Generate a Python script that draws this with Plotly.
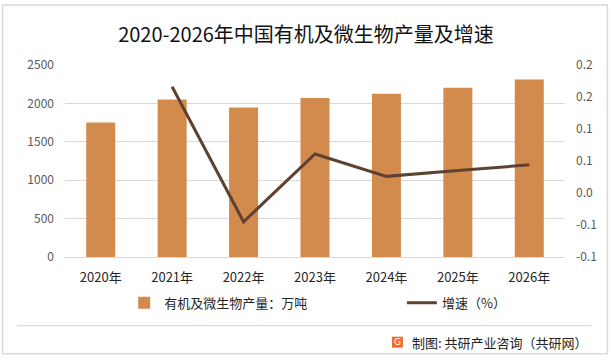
import plotly.graph_objects as go

years = ["2020年", "2021年", "2022年", "2023年", "2024年", "2025年", "2026年"]
output = [1750, 2050, 1945, 2070, 2125, 2205, 2310]
growth_years = ["2021年", "2022年", "2023年", "2024年", "2025年", "2026年"]
growth = [0.166, -0.045, 0.061, 0.026, 0.035, 0.044]
right_tick_vals = [-0.1, -0.05, 0.0, 0.05, 0.1, 0.15, 0.2]
right_tick_text = ["-0.1", "-0.1", "0.0", "0.1", "0.1", "0.2", "0.2"]

W, H = 612, 361
L, R, T, B = 64.75, 565.25, 65.3, 257.3
def px(x):
    return (x - L) / (R - L)
def py(y):
    return (B - y) / (B - T)

FONT = "Noto Sans CJK SC, Microsoft YaHei, sans-serif"

fig = go.Figure()
fig.add_trace(go.Bar(
    x=years, y=output, name="有机及微生物产量：万吨",
    marker=dict(color="#d38b4d", line=dict(width=0)),
    yaxis="y", legend="legend", showlegend=True,
))
fig.add_trace(go.Scatter(
    x=growth_years, y=growth, name="增速（%）", mode="lines",
    line=dict(color="#5e4130", width=3),
    yaxis="y2", legend="legend2", showlegend=True,
))

shapes = [
    dict(type="rect", xref="paper", yref="paper", x0=px(2.3), x1=px(607.7), y0=py(5.3), y1=py(354),
         line=dict(color="#d9d9d9", width=1.5), fillcolor="rgba(0,0,0,0)", layer="below"),
    dict(type="line", xref="paper", yref="paper", x0=px(17), x1=px(592), y0=py(326), y1=py(326),
         line=dict(color="#d9d9d9", width=1.2)),
    dict(type="rect", xref="paper", yref="paper", x0=px(392), x1=px(403), y0=py(348), y1=py(337),
         line=dict(width=0), fillcolor="#f26a2e"),
]
annotations = [
    dict(text="G", xref="paper", yref="paper", x=px(397.5), y=py(342.5), showarrow=False,
         font=dict(family="DejaVu Sans", size=9, color="white"), xanchor="center", yanchor="middle"),
    dict(text="制图: 共研产业咨询（共研网）", xref="paper", yref="paper", x=px(410), y=py(343),
         showarrow=False, xanchor="left", yanchor="middle",
         font=dict(family=FONT, size=13, color="#222222")),
]

legend_common = dict(orientation="h", yanchor="middle", y=py(303),
                     font=dict(family=FONT, size=13, color="#262626"),
                     bgcolor="rgba(0,0,0,0)", xanchor="left", visible=True)

fig.update_layout(
    width=W, height=H,
    showlegend=True,
    margin=dict(l=L, r=W - R, t=T, b=H - B, pad=0, autoexpand=False),
    paper_bgcolor="white", plot_bgcolor="white",
    font=dict(family=FONT, size=12, color="#595959"),
    title=dict(text="2020-2026年中国有机及微生物产量及增速", x=0.5, xanchor="center",
               xref="container", yref="container",
               y=1 - 35 / H, yanchor="middle", font=dict(family=FONT, size=20, color="#111111")),
    bargap=0.594,
    xaxis=dict(showgrid=False, showline=True, linecolor="#d9d9d9", linewidth=1,
               tickfont=dict(size=13, color="#262626"), ticks="", ticklabelstandoff=8,
               automargin=False),
    yaxis=dict(range=[0, 2500], dtick=500, showgrid=True, gridcolor="#d9d9d9", gridwidth=1,
               zeroline=False, showline=False, ticks="", ticklabelstandoff=10,
               tickfont=dict(size=12, color="#595959"), automargin=False),
    yaxis2=dict(range=[-0.1, 0.2], tickvals=right_tick_vals, ticktext=right_tick_text,
                overlaying="y", side="right",
                showgrid=False, zeroline=False, showline=False, ticks="", ticklabelstandoff=10,
                tickfont=dict(size=12, color="#595959"), automargin=False),
    legend=dict(x=px(124), **legend_common),
    legend2=dict(x=px(402), **legend_common),
    shapes=shapes,
    annotations=annotations,
)

fig.write_html("out.html",
               config={"displayModeBar": False},
               post_script="document.body.style.margin='0';document.body.style.padding='0';")
